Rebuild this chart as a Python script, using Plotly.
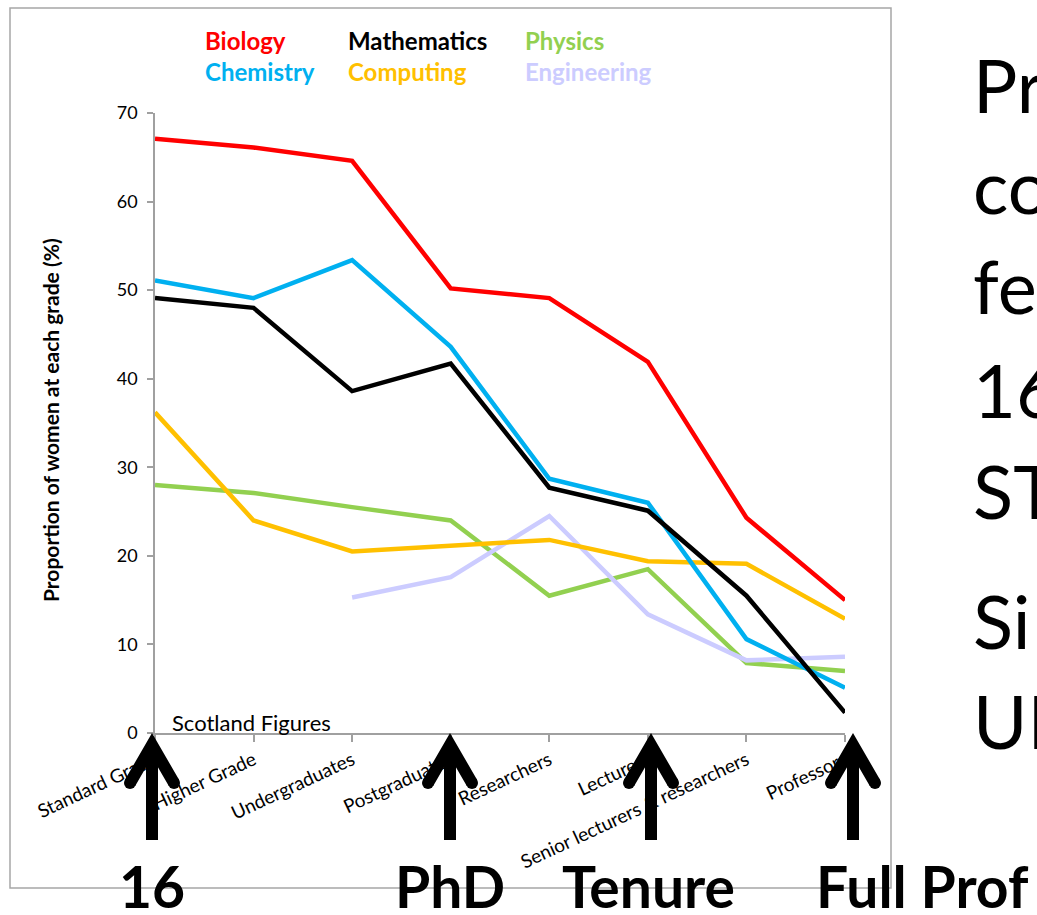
import plotly.graph_objects as go

W, H = 1037, 915

grades = ["Standard Grade", "Higher Grade", "Undergraduates", "Postgraduates",
          "Researchers", "Lecturers", "Senior lecturers & researchers", "Professors"]

biology = [67.1, 66.1, 64.6, 50.2, 49.1, 41.9, 24.3, 15.0]
chemistry = [51.1, 49.1, 53.4, 43.6, 28.7, 26.0, 10.6, 5.1]
mathematics = [49.1, 48.0, 38.6, 41.7, 27.7, 25.1, 15.5, 2.3]
physics = [28.0, 27.1, 25.5, 24.0, 15.5, 18.5, 7.9, 7.0]
computing = [36.2, 24.0, 20.5, 21.1, 21.8, 19.4, 19.1, 12.9]
engineering = [None, None, 15.3, 17.6, 24.5, 13.4, 8.2, 8.6]

series = [
    ("Physics", physics, "#92D050"),
    ("Engineering", engineering, "#CCCCFF"),
    ("Computing", computing, "#FFC000"),
    ("Chemistry", chemistry, "#00B0F0"),
    ("Mathematics", mathematics, "#000000"),
    ("Biology", biology, "#FF0000"),
]

legend_rows = [["Biology", "Mathematics", "Physics"], ["Chemistry", "Computing", "Engineering"]]
colors = {n: c for n, _, c in series}

milestones = ["16", "PhD", "Tenure", "Full Prof"]
side_text = ["Pr", "co", "fe", "16", "ST", "Si", "UK"]


def px(x):
    return x / W


def py(y):
    return 1 - y / H


fig = go.Figure()
xs = list(range(len(grades)))
for name, vals, col in series:
    fig.add_trace(go.Scatter(x=xs, y=vals, mode="lines", name=name,
                             line=dict(color=col, width=4.5), connectgaps=False,
                             showlegend=False))

FONT = "Lato, 'Open Sans', sans-serif"

fig.update_layout(
    width=W, height=H,
    margin=dict(l=0, r=0, t=0, b=0, pad=0, autoexpand=False),
    paper_bgcolor="white", plot_bgcolor="white",
    showlegend=False,
    font=dict(family=FONT, color="#000000"),
    xaxis=dict(
        domain=[px(155), px(845)], range=[0, 7],
        tickmode="array", tickvals=xs, ticktext=grades,
        tickangle=-25, tickfont=dict(size=19, family=FONT, color="#000"),
        showline=True, linecolor="#A0A0A0", linewidth=1.5,
        ticks="outside", ticklen=7, tickcolor="#A0A0A0", tickwidth=1.5,
        showgrid=False, zeroline=False, fixedrange=True, automargin=False,
    ),
    yaxis=dict(
        domain=[py(733), py(113)], range=[0, 70],
        tickvals=[0, 10, 20, 30, 40, 50, 60, 70],
        tickfont=dict(size=18, family=FONT, color="#000"),
        showline=True, linecolor="#A0A0A0", linewidth=1.5,
        ticks="outside", ticklen=6, tickcolor="#A0A0A0", tickwidth=1.5,
        ticklabelstandoff=6,
        showgrid=False, zeroline=False, fixedrange=True, automargin=False,
    ),
)

shapes = []
# outer frame
shapes.append(dict(type="rect", xref="paper", yref="paper",
                   x0=px(10), x1=px(891), y0=py(888), y1=py(8),
                   line=dict(color="#A6A6A6", width=1.5), layer="below"))

arrow_x = [152, 450, 651, 853]
for ax in arrow_x:
    apex = 745
    shapes.append(dict(type="path", xref="paper", yref="paper",
                       path=f"M {px(ax)},{py(840)} L {px(ax)},{py(apex)}",
                       line=dict(color="black", width=12), layer="above"))
    shapes.append(dict(type="path", xref="paper", yref="paper",
                       path=f"M {px(ax-22)},{py(783)} L {px(ax)},{py(apex)} L {px(ax+22)},{py(783)}",
                       line=dict(color="black", width=12), layer="above"))
    for ex in (ax - 22, ax + 22):
        shapes.append(dict(type="circle", xref="paper", yref="paper",
                           x0=px(ex - 6), x1=px(ex + 6), y0=py(783 + 6), y1=py(783 - 6),
                           fillcolor="black", line=dict(width=0), layer="above"))

annotations = []
# legend as coloured text
leg_x = [203, 346, 523]
leg_y = [40, 71]
for r, row in enumerate(legend_rows):
    for c, name in enumerate(row):
        annotations.append(dict(xref="paper", yref="paper", x=px(leg_x[c]), y=py(leg_y[r]),
                                xanchor="left", yanchor="middle", showarrow=False,
                                text=f"<b>{name}</b>",
                                font=dict(size=24, color=colors[name], family=FONT)))

annotations.append(dict(xref="paper", yref="paper", x=px(50), y=py(420),
                        xanchor="center", yanchor="middle", showarrow=False,
                        textangle=-90, text="<b>Proportion of women at each grade (%)</b>",
                        font=dict(size=21, family=FONT, color="#000")))

annotations.append(dict(xref="paper", yref="paper", x=px(170), y=py(722),
                        xanchor="left", yanchor="middle", showarrow=False,
                        text="Scotland Figures", font=dict(size=22, family=FONT, color="#000")))

ms_x = [152, 450, 648, 922]
for t, x in zip(milestones, ms_x):
    annotations.append(dict(xref="paper", yref="paper", x=px(x), y=py(886),
                            xanchor="center", yanchor="middle", showarrow=False,
                            text=f"<b>{t}</b>", font=dict(size=57, family=FONT, color="#000")))

side_y = [85, 185, 285, 389, 490, 620, 720]
for t, y in zip(side_text, side_y):
    annotations.append(dict(xref="paper", yref="paper", x=px(971), y=py(y),
                            xanchor="left", yanchor="middle", showarrow=False,
                            text=t, font=dict(size=74, family=FONT, color="#000")))

fig.update_layout(shapes=shapes, annotations=annotations)

fig.write_html("out.html")
